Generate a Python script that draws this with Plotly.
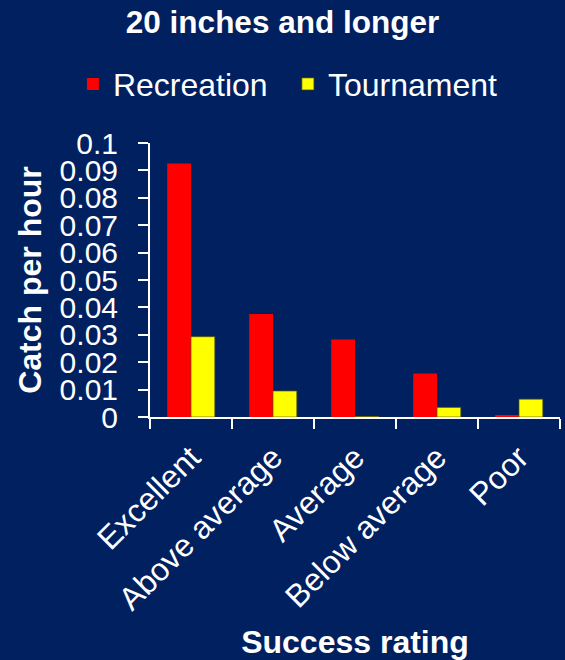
import plotly.graph_objects as go

categories = ["Excellent", "Above average", "Average", "Below average", "Poor"]
recreation = [0.0925, 0.0376, 0.0283, 0.0159, 0.0004]
tournament = [0.0293, 0.0095, 0.0002, 0.0035, 0.0065]
y_ticks = [0, 0.01, 0.02, 0.03, 0.04, 0.05, 0.06, 0.07, 0.08, 0.09, 0.1]
y_ticktext = ["0", "0.01", "0.02", "0.03", "0.04", "0.05", "0.06", "0.07", "0.08", "0.09", "0.1"]

bgcolor = "#002060"
font = "Liberation Sans, Arial, sans-serif"

fig = go.Figure()

fig.add_trace(
    go.Bar(x = categories,
           y = recreation,
           name = "Recreation",
           marker = dict(color = "#FF0000", line = dict(width = 0))))

fig.add_trace(
    go.Bar(x = categories,
           y = tournament,
           name = "Tournament",
           marker = dict(color = "#FFFF00", line = dict(color = "rgba(90,90,0,0.7)", width = 1))))

fig.update_layout(
    width = 565,
    height = 660,
    paper_bgcolor = bgcolor,
    plot_bgcolor = bgcolor,
    font = dict(family = font, color = "white", size = 30),
    margin = dict(l = 150, r = 5, t = 143, b = 243, autoexpand = False),
    barmode = "group",
    bargap = 0.42,
    bargroupgap = 0,
    title = dict(text = "<b>20 inches and longer</b>", x = 0.5, xanchor = "center",
                 y = 1 - 22 / 660, yanchor = "middle", yref = "container",
                 font = dict(size = 31.5, color = "white")),
    showlegend = True,
    # legend anchored left of the plot area so it may use the left margin too
    legend = dict(orientation = "h", x = -0.188, xanchor = "left",
                  y = 1.215, yanchor = "middle",
                  font = dict(size = 32, color = "white"), bgcolor = "rgba(0,0,0,0)",
                  itemwidth = 30, entrywidth = 170, entrywidthmode = "pixels",
                  traceorder = "normal"),
    xaxis = dict(showline = True, linecolor = "white", linewidth = 2,
                 ticks = "outside", tickson = "boundaries", ticklen = 10, tickwidth = 2,
                 tickcolor = "white", tickangle = -45, showgrid = False,
                 ticklabelstandoff = 7,
                 tickfont = dict(size = 32, color = "white"),
                 title = dict(text = "<b>Success rating</b>", font = dict(size = 32, color = "white"),
                              standoff = 20)),
    yaxis = dict(range = [0, 0.1], tickvals = y_ticks, ticktext = y_ticktext,
                 showline = True, linecolor = "white", linewidth = 2,
                 ticks = "outside", ticklen = 10, tickwidth = 2, tickcolor = "white",
                 ticklabelstandoff = 14,
                 showgrid = False, zeroline = False,
                 tickfont = dict(size = 30, color = "white"),
                 title = dict(text = "<b>Catch per hour</b>", font = dict(size = 32, color = "white"),
                              standoff = 8)),
)

fig.write_html("out.html",
               config = {"displayModeBar": False},
               post_script = "document.body.style.margin='0';document.body.style.background='" + bgcolor + "';")
